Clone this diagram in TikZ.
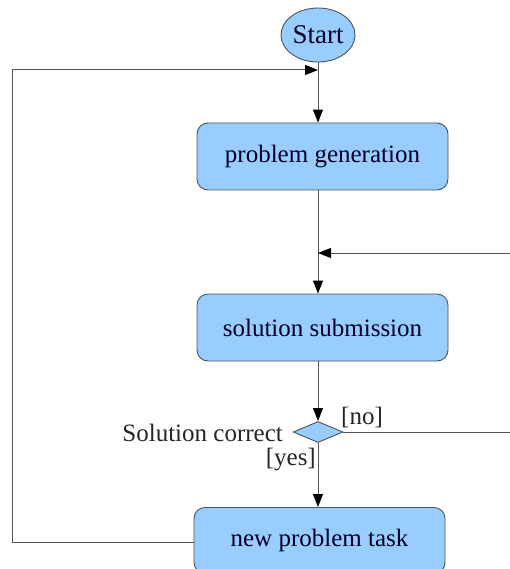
\documentclass[tikz,border=0pt]{standalone}
\usepackage{fontspec}
\setmainfont{Liberation Serif}
\newfontfamily\tms{Liberation Serif}
\usetikzlibrary{shapes.geometric,arrows.meta}
\definecolor{boxfill}{HTML}{99CCFF}
\definecolor{boxline}{HTML}{4A5560}
\definecolor{wire}{HTML}{555555}
\begin{document}
\begin{tikzpicture}[x=1pt,y=-1pt,
  every node/.style={font=\tms\fontsize{25}{30}\selectfont, text=black!85!blue},
  procbox/.style={draw=boxline, fill=boxfill, line width=0.9pt, rounded corners=11pt,
    minimum width=251pt, inner sep=0pt},
  wireline/.style={draw=wire, line width=1pt},
  arr/.style={wireline, -{Triangle[length=13pt,width=10pt,fill=black,color=black]}},
  lbl/.style={text=black!85, inner sep=0pt}
]
\useasboundingbox (0,0) rectangle (510,569);
\node[ellipse, draw=boxline, fill=boxfill, line width=0.9pt, minimum width=74pt, minimum height=54pt, inner sep=0pt, font=\tms\fontsize{27}{30}\selectfont] (start) at (318,35) {Start};
\node[procbox, minimum height=67pt] (pg) at (322.5,156.5) {problem generation};
\node[procbox, minimum height=67pt] (ss) at (322.5,327.5) {solution submission};
\node[diamond, draw=boxline, fill=boxfill, line width=0.9pt, minimum width=50pt, minimum height=21pt, inner sep=0pt, aspect=2.4] (dec) at (318,432) {};
\node[procbox, minimum height=66pt, anchor=north] (npt) at (319.5,507) {};
\node[text=black!85!blue, inner sep=0pt] (npttext) at (319.5,540) {new problem task};
\node[lbl, anchor=east] (solc) at (283,433) {Solution correct};
\node[lbl, anchor=south west] (no) at (341,428) {[no]};
\node[lbl, anchor=north east] (yes) at (316,448) {[yes]};
\coordinate (loopL) at (12,542);
\coordinate (loopT) at (12,70);
\coordinate (rin) at (510,253);
\coordinate (rout) at (510,432);
% connectors
\draw[arr] (start.south) -- (start.south |- pg.north);
\draw[wireline] (start.south |- pg.south) -- (start.south |- rin);
\draw[arr] (start.south |- rin) -- (start.south |- ss.north);
\draw[arr] (rin) -- (start.south |- rin);
\draw[arr] (start.south |- ss.south) -- (dec.north);
\draw[wireline] (dec.east) -- (rout);
\draw[arr] (dec.south) -- (dec.south |- npt.north);
\draw[wireline] (npt.west |- loopL) -- (loopL) -- (loopT);
\draw[arr] (loopT) -- (loopT -| start.south);
\end{tikzpicture}
\end{document}
